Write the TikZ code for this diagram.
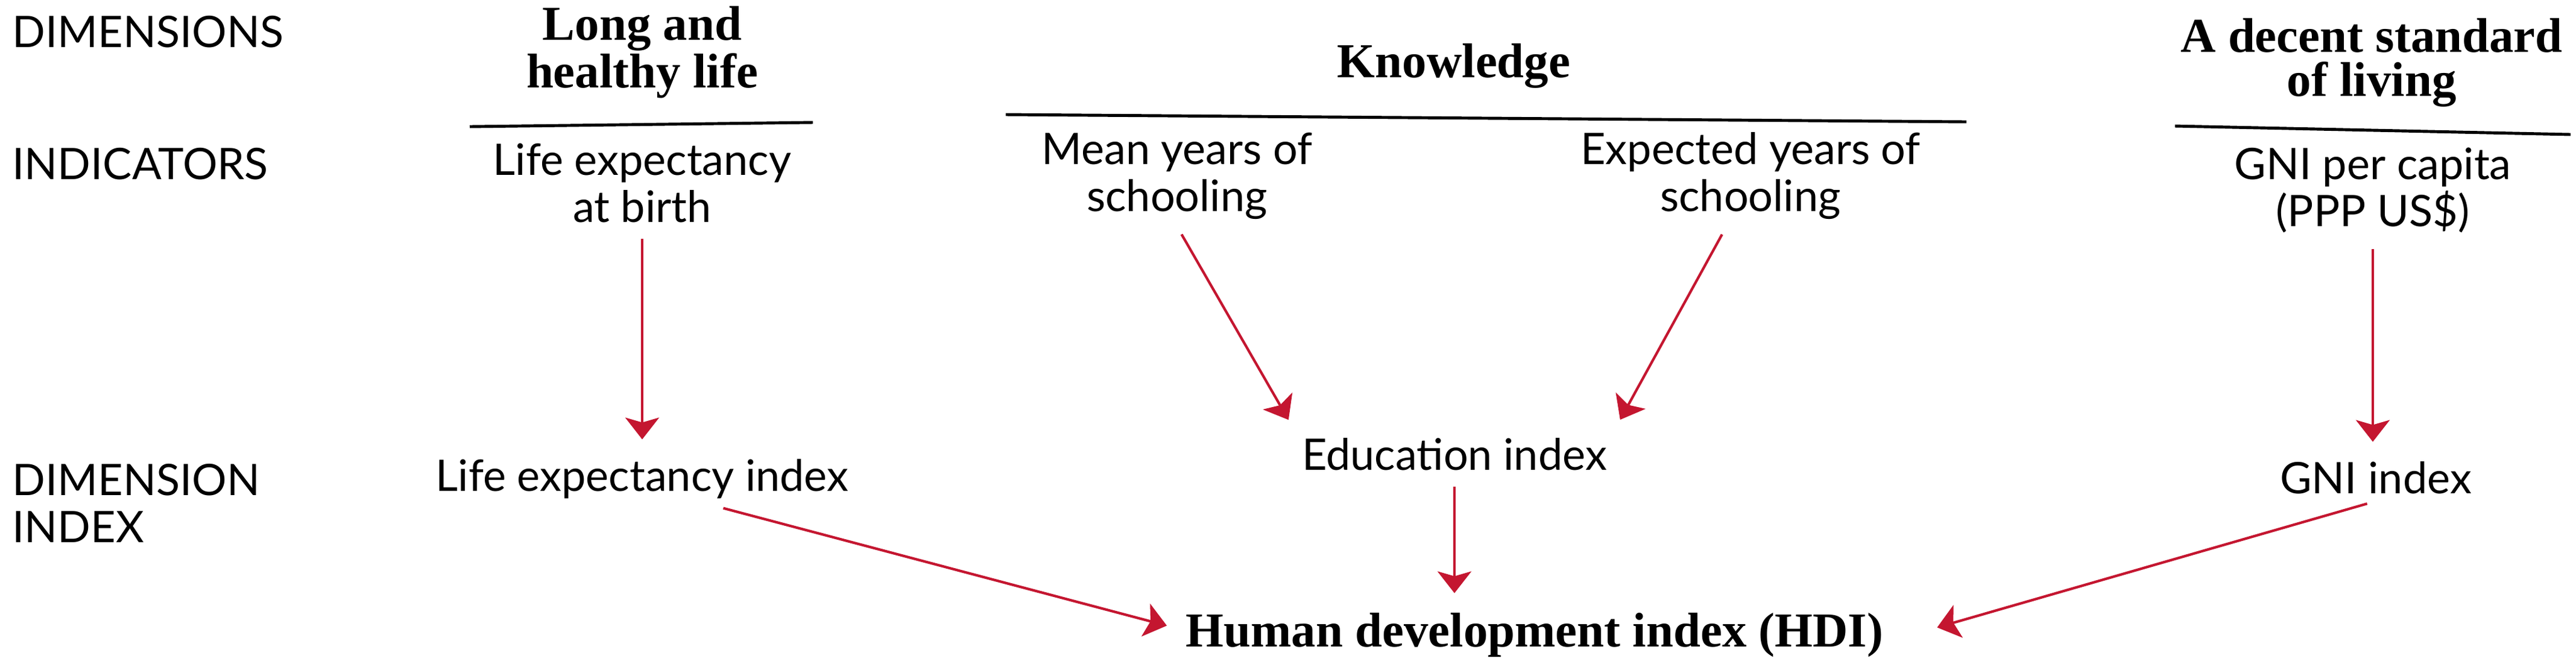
\documentclass[tikz,border=0pt]{standalone}
\usepackage{fontspec}
\setmainfont{Lato}
\newfontfamily\headfont{Liberation Serif}
\usepackage{tikz}
\usetikzlibrary{arrows.meta}
\definecolor{arrowred}{RGB}{196,22,48}
\begin{document}
\begin{tikzpicture}[
    rowlabel/.style={anchor=base west,inner sep=0pt,align=left,font=\fontsize{20.5}{22.1}\selectfont},
    dimhead/.style={anchor=base,align=center,font=\headfont\bfseries\fontsize{23}{20.6}\selectfont},
    indtext/.style={anchor=base,align=center,font=\fontsize{20.5}{22.1}\selectfont},
    rule/.style={line width=1.4pt},
    link/.style={draw=arrowred,line width=1.2pt,-{Stealth[length=3.6mm,width=5.6mm,inset=0.8mm]},shorten <=1.5mm,shorten >=2mm}]
    \useasboundingbox (0,0) rectangle (42.72,-11.10);
        \node[rowlabel](dims) at (0.20,-0.78) {DIMENSIONS};
        \node[rowlabel](inds) at (0.20,-2.97) {INDICATORS};
        \node[rowlabel](dimidx) at (0.20,-8.99) {DIMENSION\\INDEX};
        \node[dimhead](health) at (10.65,-1.45) {Long and\\healthy life};
        \node[dimhead](knowledge) at (24.11,-1.28) {Knowledge};
        \node[dimhead](living) at (39.33,-1.59) {A decent standard\\of living};
        \draw[rule](7.79,-2.10)--(13.48,-2.03);
        \draw[rule](16.68,-1.90)--(32.61,-2.02);
        \draw[rule](36.07,-2.09)--(42.63,-2.23);
        \node[indtext](lifeexp) at (10.65,-3.68) {Life expectancy\\at birth};
        \node[indtext](meanyrs) at (19.52,-3.50) {Mean years of\\schooling};
        \node[indtext](expyrs) at (29.03,-3.50) {Expected years of\\schooling};
        \node[indtext](gnipc) at (39.35,-3.75) {GNI per capita\\(PPP US\$)};
        \node[indtext](lei) at (10.65,-8.14) {Life expectancy index};
        \node[indtext](edu) at (24.12,-7.79) {Education index};
        \node[indtext](gni) at (39.40,-8.18) {GNI index};
        \node[dimhead](hdi) at (25.45,-10.72) {Human development index (HDI)};
        \draw[link](lifeexp.south)--(lifeexp.south|-lei.north);
        \draw[link](meanyrs.south)--(edu.north west);
        \draw[link]([xshift=-4mm]expyrs.south)--(edu.north east);
        \draw[link](gnipc.south)--(gnipc.south|-gni.north);
        \draw[link]([xshift=12mm]lei.south)--([yshift=1mm]hdi.west);
        \draw[link](edu.south)--(edu.south|-hdi.north);
        \draw[link,shorten >=8mm](gni.south)--([yshift=-1mm]hdi.east);
\end{tikzpicture}
\end{document}
